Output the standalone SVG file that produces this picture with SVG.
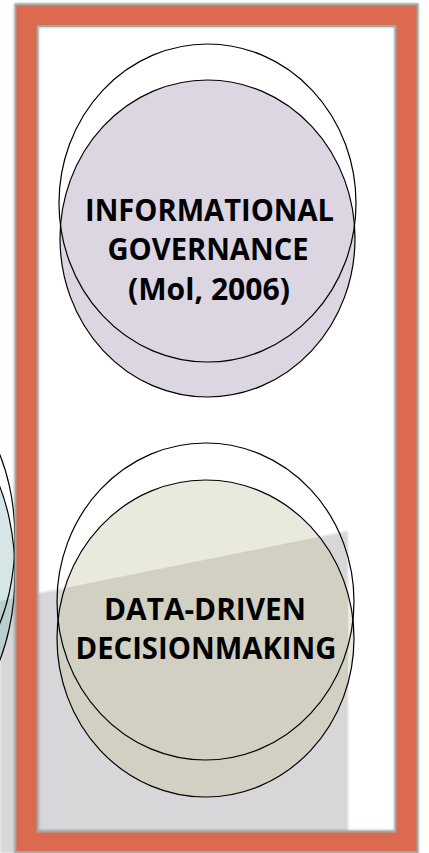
<svg xmlns="http://www.w3.org/2000/svg" width="429" height="853" viewBox="0 0 429 853">
  <style>
    .ring { fill: none; stroke: #000; stroke-width: 1.2; }
    .lbl { font-family: "Open Sans", "Liberation Sans", sans-serif; font-weight: bold; font-size: 30px; fill: #000; text-anchor: middle; }
  </style>
  <defs>
    <clipPath id="shadowClip">
      <polygon points="0,601 348,531 348,853 0,853"/>
    </clipPath>
    <filter id="soft" x="-5%" y="-5%" width="110%" height="110%">
      <feGaussianBlur stdDeviation="1.2"/>
    </filter>
    <filter id="frameShadow" x="-5%" y="-5%" width="110%" height="110%">
      <feDropShadow dx="0" dy="0" stdDeviation="1.6" flood-color="#6b6b6b" flood-opacity="0.6"/>
    </filter>
  </defs>

  <rect x="0" y="0" width="429" height="853" fill="#ffffff"/>

  <g id="page-shadow">
    <polygon points="0,601 348,531 348,853 0,853" fill="#d8d6d8" filter="url(#soft)"/>
  </g>

  <g id="left-fragment">
    <ellipse cx="-65" cy="573.5" rx="80" ry="148" fill="#d6e6e6"/>
    <ellipse cx="-65" cy="573.5" rx="80" ry="148" fill="#bccfcf" clip-path="url(#shadowClip)"/>
    <ellipse class="ring" cx="-65" cy="573.5" rx="80" ry="148"/>
    <ellipse class="ring" cx="-65" cy="539" rx="80" ry="144"/>
  </g>

  <g id="informational-governance">
    <ellipse cx="207.5" cy="238.5" rx="147.5" ry="158.5" fill="#dcd5e2" stroke="#000" stroke-width="1.2"/>
    <ellipse class="ring" cx="207.5" cy="203" rx="148.5" ry="159"/>
    <text class="lbl" x="209.5" y="220.5" textLength="249" lengthAdjust="spacingAndGlyphs">INFORMATIONAL</text>
    <text class="lbl" x="208" y="260" textLength="201" lengthAdjust="spacingAndGlyphs">GOVERNANCE</text>
    <text class="lbl" x="209" y="300" textLength="162" lengthAdjust="spacingAndGlyphs">(Mol, 2006)</text>
  </g>

  <g id="data-driven-decisionmaking">
    <ellipse cx="205.5" cy="638.5" rx="148.5" ry="158.5" fill="#e9e9dd"/>
    <ellipse cx="205.5" cy="638.5" rx="148.5" ry="158.5" fill="#d1d0c3" clip-path="url(#shadowClip)"/>
    <ellipse class="ring" cx="205.5" cy="638.5" rx="148.5" ry="158.5"/>
    <ellipse class="ring" cx="205.5" cy="601.5" rx="148.5" ry="158.5"/>
    <text class="lbl" x="205" y="619.5" textLength="202" lengthAdjust="spacingAndGlyphs">DATA-DRIVEN</text>
    <text class="lbl" x="206" y="658.5" textLength="261" lengthAdjust="spacingAndGlyphs">DECISIONMAKING</text>
  </g>

  <g id="frame">
    <path d="M15.5,4.5 H417.5 V852 H15.5 Z M37.5,26 V831.5 H395.5 V26 Z" fill="#db6a51" fill-rule="evenodd" stroke="#9badA5" stroke-width="1.8" filter="url(#frameShadow)"/>
  </g>
</svg>
